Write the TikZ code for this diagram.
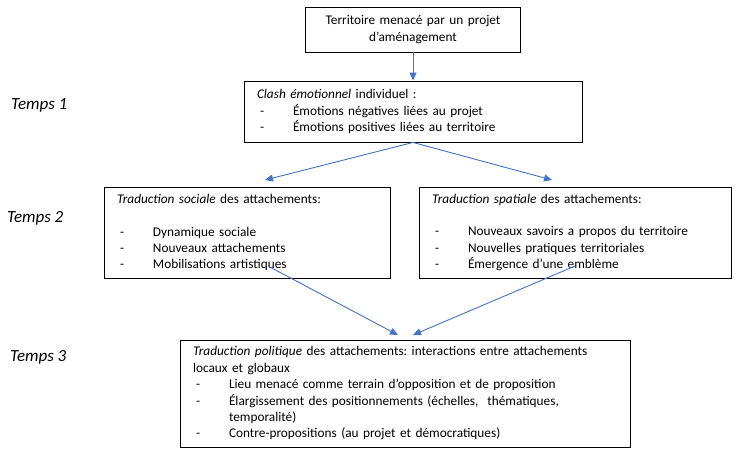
\documentclass[tikz,border=0pt]{standalone}
\usepackage{fontspec}
\setmainfont{Carlito}
\usetikzlibrary{arrows.meta,
	positioning}
\frenchspacing
\definecolor{fleche}{RGB}{68,114,196}
\tikzstyle{boite}=[draw, line width=0.9pt, inner xsep=13pt, inner ysep=0pt,
		align=left, font=\fontsize{13.3}{16.4}\selectfont]
\tikzstyle{temps}=[anchor=west, inner sep=0, font=\fontsize{17}{20}\selectfont\itshape]
\tikzstyle{lien}=[draw=fleche, line width=0.9pt, -{Triangle[length=8pt, width=7pt]}]
\newcommand{\tiret}[1]{\makebox[36pt][l]{\hspace{3pt}-}#1}

\begin{document}
\begin{tikzpicture}[x=1pt, y=-1pt]
        \useasboundingbox (0,0) rectangle (738,456);
        % etapes
        \node[temps] (t1) at (11,105) {Temps 1};
        \node[temps] (t2) at (7,218) {Temps 2};
        \node[temps] (t3) at (10,357) {Temps 3};
        % boites
        \node[boite, text width=189pt, align=center, minimum height=45pt] (projet) at (413,29.5)
            {Territoire menacé par un projet\\ d’aménagement};
        \node[boite, text width=312pt, minimum height=61pt] (clash) at (413,111.5)
            {\textit{Clash émotionnel} individuel :\\
             \tiret{Émotions négatives liées au projet}\\
             \tiret{Émotions positives liées au territoire}};
        \node[boite, text width=260pt, minimum height=91pt] (sociale) at (247,232.5)
            {\textit{Traduction sociale} des attachements:\\ \strut\\
             \tiret{Dynamique sociale}\\
             \tiret{Nouveaux attachements}\\
             \tiret{Mobilisations artistiques}};
        \node[boite, text width=286pt, minimum height=91pt] (spatiale) at (575,232.5)
            {\textit{Traduction spatiale} des attachements:\\ \strut\\
             \tiret{Nouveaux savoirs a propos du territoire}\\
             \tiret{Nouvelles pratiques territoriales}\\
             \tiret{Émergence d’une emblème}};
        \node[boite, text width=424pt, minimum height=107pt] (politique) at (405,393.5)
            {\mbox{\textit{Traduction politique} des attachements: interactions entre attachements}\\
             locaux et globaux\\
             \tiret{Lieu menacé comme terrain d’opposition et de proposition}\\
             \tiret{Élargissement des positionnements (échelles,\ \ thématiques,}\\
             \hspace*{36pt}temporalité)\\
             \tiret{Contre-propositions (au projet et démocratiques)}};
        % bouts des fleches
        \coordinate (versG) at (265,180);
        \coordinate (versD) at (552,180);
        \coordinate (departG) at (268,266);
        \coordinate (departD) at (575,266);
        \coordinate (arriveeG) at (398,335);
        \coordinate (arriveeD) at (413,335);
        % fleches
        \draw[lien] (projet) -- (clash);
        \draw[lien] (clash.south) -- (versG);
        \draw[lien] (clash.south) -- (versD);
        \draw[lien] (departG) -- (arriveeG);
        \draw[lien] (departD) -- (arriveeD);
    \end{tikzpicture}
\end{document}
